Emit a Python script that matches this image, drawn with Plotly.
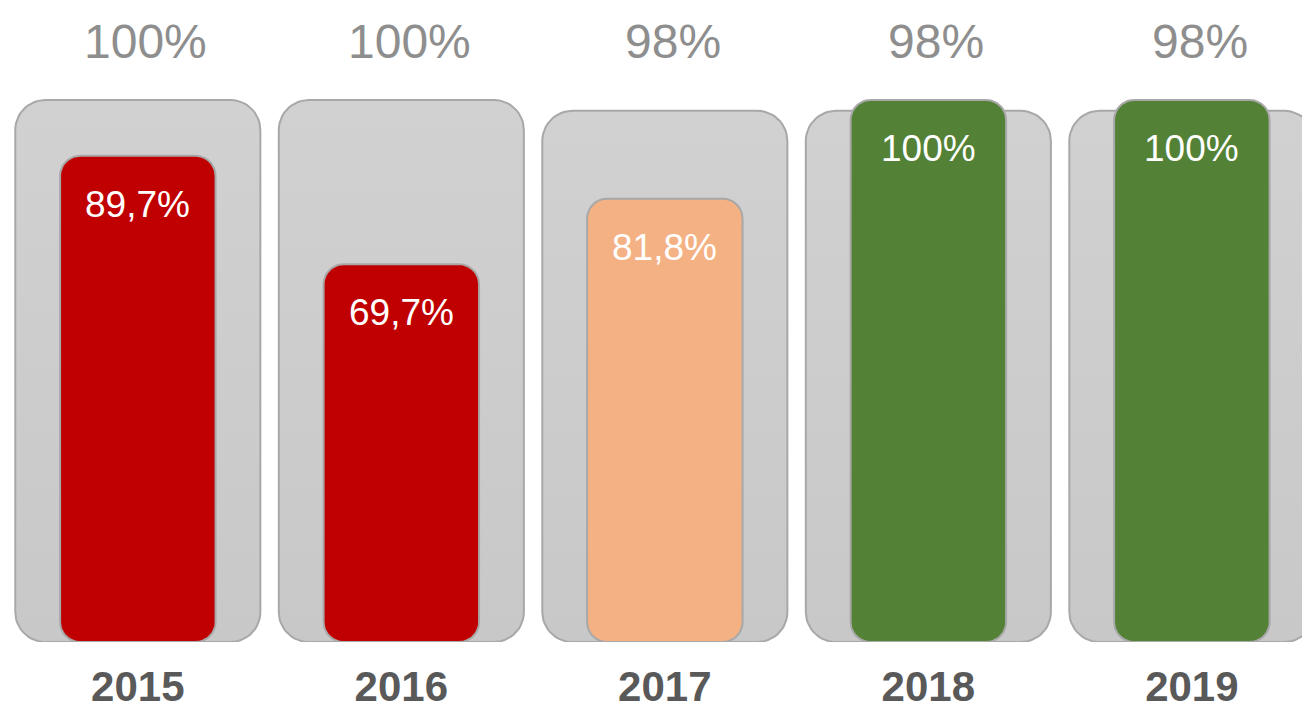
import numpy as np
import plotly.graph_objects as go

categories = ["2015", "2016", "2017", "2018", "2019"]
target = [100, 100, 98, 98, 98]
actual = [89.7, 69.7, 81.8, 100, 100]
target_labels = ["100%", "100%", "98%", "98%", "98%"]
actual_labels = ["89,7%", "69,7%", "81,8%", "100%", "100%"]
actual_colors = ["#C00000", "#C00000", "#F4B183", "#538135", "#538135"]

GRAY_TOP = "#D1D1D1"
GRAY_BOTTOM = "#C8C8C8"
EDGE = "#A8A8A8"

W, H = 1302, 709
M_BOTTOM = 67
X_RANGE = [-0.523, 4.418]
Y_RANGE = [0, 118.45]
PX_PER_X = W / (X_RANGE[1] - X_RANGE[0])
PX_PER_Y = (H - M_BOTTOM) / (Y_RANGE[1] - Y_RANGE[0])

fig = go.Figure()


def rounded_bar(center, half_w, top, radius_px):
    """Outline of a bar from 0 to `top`, rounded at all four corners."""
    rx = radius_px / PX_PER_X
    ry = radius_px / PX_PER_Y
    xs, ys = [], []
    corners = [
        (center + half_w - rx, top - ry, 0),
        (center - half_w + rx, top - ry, 90),
        (center - half_w + rx, ry, 180),
        (center + half_w - rx, ry, 270),
    ]
    for cx, cy, a0 in corners:
        ang = np.radians(np.linspace(a0, a0 + 90, 14))
        xs.extend(cx + rx * np.cos(ang))
        ys.extend(cy + ry * np.sin(ang))
    xs.append(xs[0])
    ys.append(ys[0])
    return xs, ys


# background (target) bars
for i, v in enumerate(target):
    xs, ys = rounded_bar(i, 0.93 / 2, v, 30)
    fig.add_trace(go.Scatter(
        x=xs, y=ys, mode="lines", fill="toself",
        fillgradient=dict(type="vertical", start=0, stop=v,
                          colorscale=[[0, GRAY_BOTTOM], [1, GRAY_TOP]]),
        line=dict(color=EDGE, width=2), hoverinfo="skip", showlegend=False))

# foreground (actual) bars
for i, (v, f) in enumerate(zip(actual, actual_colors)):
    xs, ys = rounded_bar(i, 0.59 / 2, v, 20)
    fig.add_trace(go.Scatter(
        x=xs, y=ys, mode="lines", fill="toself", fillcolor=f,
        line=dict(color=EDGE, width=2), hoverinfo="skip", showlegend=False))

for i, lbl in enumerate(target_labels):
    fig.add_annotation(x=i, y=0.935, xref="x", yref="paper", text=lbl,
                       showarrow=False, yanchor="middle", xshift=8,
                       font=dict(family="Liberation Sans, Arial", size=48, color="#8E8E8E"))

for i, (v, lbl) in enumerate(zip(actual, actual_labels)):
    fig.add_annotation(x=i, y=v, xref="x", yref="y", text=lbl, showarrow=False,
                       yanchor="top", yshift=-26,
                       font=dict(family="Liberation Sans, Arial", size=37, color="#FFFFFF"))

fig.update_layout(
    width=W, height=H,
    margin=dict(l=0, r=0, t=0, b=M_BOTTOM),
    paper_bgcolor="white", plot_bgcolor="white",
    xaxis=dict(type="linear", range=X_RANGE, showgrid=False, zeroline=False,
               showline=False, ticks="", tickmode="array",
               tickvals=list(range(len(categories))), ticktext=categories,
               ticklabelstandoff=16,
               tickfont=dict(family="Liberation Sans, Arial", size=42, color="#595959",
                             weight="bold")),
    yaxis=dict(range=Y_RANGE, visible=False),
)

fig.write_html("out.html", config={"displayModeBar": False},
               post_script="document.body.style.margin='0';")
